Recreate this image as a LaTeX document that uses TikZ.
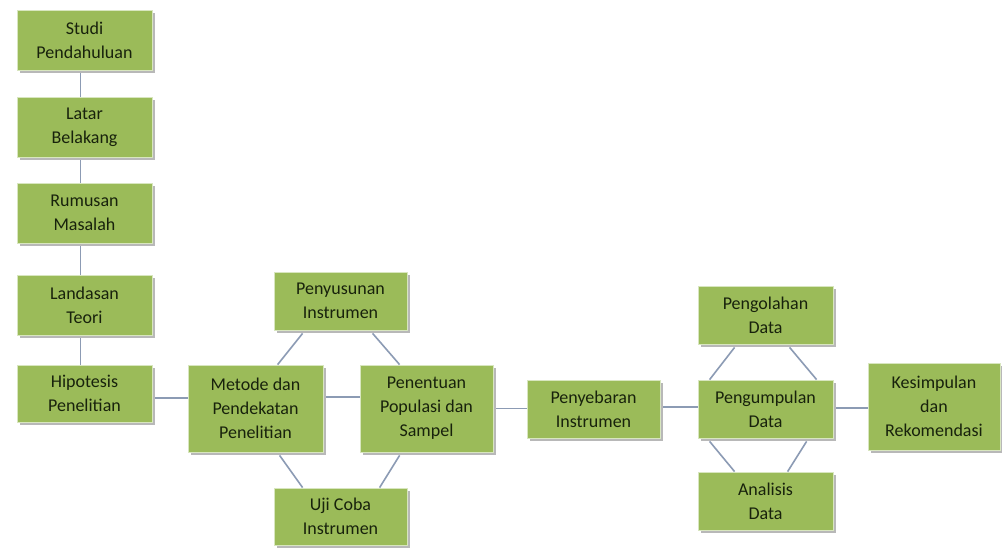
\documentclass[tikz,border=0pt]{standalone}
\usepackage{fontspec}
\setmainfont{Carlito}
\usetikzlibrary{shadows}
\definecolor{boxgreen}{HTML}{9BBB59}
\definecolor{boxedge}{HTML}{D8E6BF}
\definecolor{conncol}{HTML}{8C9BB4}
\definecolor{txtcol}{HTML}{18220C}
\tikzset{
  box/.style={rectangle, fill=boxgreen, draw=boxedge, line width=0.8pt,
    inner sep=2pt, align=center, text=txtcol,
    font=\fontsize{18}{24}\selectfont,
    drop shadow={shadow xshift=3pt, shadow yshift=-3pt, fill=black!28, opacity=1}},
  conn/.style={draw=conncol, line width=1.6pt}
}
\begin{document}
\begin{tikzpicture}[x=1pt,y=-1pt]
\fill[white] (0,0) rectangle (1002,548);
\useasboundingbox (0,0) rectangle (1002,548);
% nodes
\node[box, minimum width=135pt, minimum height=60pt] (studi) at (84.5,40) {Studi\\Pendahuluan};
\node[box, minimum width=135pt, minimum height=60pt] (latar) at (84.5,127) {Latar\\Belakang};
\node[box, minimum width=135pt, minimum height=60pt] (rumus) at (84.5,213) {Rumusan\\Masalah};
\node[box, minimum width=135pt, minimum height=60pt] (landas) at (84.5,305) {Landasan\\Teori};
\node[box, minimum width=135pt, minimum height=57pt] (hip) at (84.5,393.5) {Hipotesis\\Penelitian};
\node[box, minimum width=135pt, minimum height=87pt] (met) at (255.5,408.5) {Metode dan\\Pendekatan\\Penelitian};
\node[box, minimum width=133pt, minimum height=87pt] (pent) at (426.5,408.5) {Penentuan\\Populasi dan\\Sampel};
\node[box, minimum width=133pt, minimum height=58pt] (susun) at (340.5,301) {Penyusunan\\Instrumen};
\node[box, minimum width=133pt, minimum height=57pt] (uji) at (340.5,516.5) {Uji Coba\\Instrumen};
\node[box, minimum width=133pt, minimum height=58pt] (sebar) at (593.5,409) {Penyebaran\\Instrumen};
\node[box, minimum width=135pt, minimum height=58pt] (kumpul) at (765.5,409) {Pengumpulan\\Data};
\node[box, minimum width=135pt, minimum height=58pt] (olah) at (765.5,315) {Pengolahan\\Data};
\node[box, minimum width=135pt, minimum height=58pt] (anal) at (765.5,501) {Analisis\\Data};
\node[box, minimum width=132pt, minimum height=87pt] (kesim) at (934,406.5) {Kesimpulan\\dan\\Rekomendasi};
% vertical chain
\draw[conn] ([xshift=-4pt,yshift=-3pt]studi.south) -- ([xshift=-4pt]latar.north);
\draw[conn] ([xshift=-4pt,yshift=-3pt]latar.south) -- ([xshift=-4pt]rumus.north);
\draw[conn] ([xshift=-4pt,yshift=-3pt]rumus.south) -- ([xshift=-4pt]landas.north);
\draw[conn] ([xshift=-4pt,yshift=-3pt]landas.south) -- ([xshift=-4pt]hip.north);
% horizontal links
\draw[conn] ([xshift=3pt,yshift=-4.5pt]hip.east) -- ([yshift=-4.5pt]hip.east -| met.west);
\draw[conn] ([xshift=3pt,yshift=11.5pt]met.east) -- ([yshift=11.5pt]met.east -| pent.west);
\draw[conn] ([xshift=3pt]pent.east) -- (pent.east -| sebar.west);
\draw[conn] ([xshift=3pt,yshift=2pt]sebar.east) -- ([yshift=2pt]sebar.east -| kumpul.west);
\draw[conn] ([xshift=3pt,yshift=1pt]kumpul.east) -- ([yshift=1pt]kumpul.east -| kesim.west);
% diagonals left group
\draw[conn] ([xshift=29pt,yshift=-3pt]susun.south west) -- ([xshift=90pt]met.north west);
\draw[conn] ([xshift=99pt,yshift=-3pt]susun.south west) -- ([xshift=40pt]pent.north west);
\draw[conn] ([xshift=92pt,yshift=-3pt]met.south west) -- ([xshift=29pt]uji.north west);
\draw[conn] ([xshift=40pt,yshift=-3pt]pent.south west) -- ([xshift=106pt]uji.north west);
% diagonals right group
\draw[conn] ([xshift=37pt,yshift=-3pt]olah.south west) -- ([xshift=12pt]kumpul.north west);
\draw[conn] ([xshift=92pt,yshift=-3pt]olah.south west) -- ([xshift=119pt]kumpul.north west);
\draw[conn] ([xshift=12pt,yshift=-3pt]kumpul.south west) -- ([xshift=37pt]anal.north west);
\draw[conn] ([xshift=109pt,yshift=-3pt]kumpul.south west) -- ([xshift=90pt]anal.north west);
\end{tikzpicture}
\end{document}
